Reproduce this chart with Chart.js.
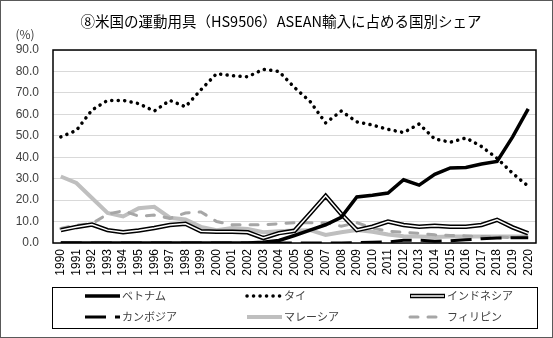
<html>
<head>
<style>
body { margin: 0; background: #fff; }
canvas { display: block; }
</style>
</head>
<body>
<canvas id="c" width="553" height="338"></canvas>
<script src="https://cdn.jsdelivr.net/npm/chart.js"></script>
<script>
const titleText = '⑧米国の運動用具（HS9506）ASEAN輸入に占める国別シェア'
const unitText = '(%)'
const years = ['1990','1991','1992','1993','1994','1995','1996','1997','1998','1999',
  '2000','2001','2002','2003','2004','2005','2006','2007','2008','2009',
  '2010','2011','2012','2013','2014','2015','2016','2017','2018','2019','2020']
const yTicks = [0, 10, 20, 30, 40, 50, 60, 70, 80, 90]

const vietnam = [0,0,0,0,0,0,0,0,0,0, 0,0,0,0.3,1.2,3.5,6,8.5,12,21.5,
  22.3,23.3,29.5,27,32,35,35.2,36.8,38,49.5,62.5]
const thai = [49.5,52.5,62,66.5,66.5,65,61.5,66.5,63.5,71.5, 79,78,77.5,81,80,72.5,66,56,61.5,56.5,
  55,53,51.5,55.5,48.5,47,49,45,39.5,32.5,26.5]
const indonesia = [6,7.5,8.6,6,5,5.8,7,8.4,9,5.5, 5.2,5.2,5,2.3,4.6,5.7,13.8,22,13.5,6,
  7.6,10,8.4,7.6,8,7.6,7.6,8.4,10.8,7.3,4.5]
const cambodia = [0,0,0,0,0,0,0,0,0,0, 0,0,0,0,0,0,0,0,0,0.2,
  0.3,0.5,1.3,1.3,0.8,1.0,1.5,2.0,2.3,2.5,2.5]
const malaysia = [31,28,21,14,12.4,16.2,16.9,11.8,11,7.5, 6,7,6.5,5,5.5,5.8,6,3.8,5,6,
  5.2,4,3.2,3,2.8,3,3,3,3,3,3]
const philippines = [6.8,8.3,9,13.5,15,12.5,13,11.5,14,14.5, 10,8.5,8.5,8.5,9,9.5,9.5,9.5,7.8,9.5,
  7,5.5,5,4.5,3.8,3.5,3.3,3,2.8,2.5,3]

const jp = '"Noto Sans CJK JP", sans-serif'
const latin = '"Liberation Sans", Arial, sans-serif'

const datasets = [
  { label: 'ベトナム', data: vietnam, borderColor: '#000', borderWidth: 3.5, order: 1 },
  { label: 'タイ', data: thai, borderColor: '#000', borderWidth: 3.5, borderDash: [0.1, 6.4], borderCapStyle: 'round', order: 2 },
  { label: 'インドネシア', data: indonesia, borderColor: '#000', borderWidth: 4.5, order: 4, double: true },
  { label: '_inner', data: indonesia, borderColor: '#fff', borderWidth: 1.5, order: 3 },
  { label: 'カンボジア', data: cambodia, borderColor: '#000', borderWidth: 3, borderDash: [21, 9], order: 5 },
  { label: 'マレーシア', data: malaysia, borderColor: '#bfbfbf', borderWidth: 4, order: 7 },
  { label: 'フィリピン', data: philippines, borderColor: '#a6a6a6', borderWidth: 3, borderDash: [8, 10], borderCapStyle: 'round', order: 6 }
]
datasets.forEach(d => { d.pointRadius = 0; d.tension = 0; d.fill = false })

const decor = {
  id: 'decor',
  afterDraw(chart) {
    const ctx = chart.ctx
    const a = chart.chartArea
    ctx.save()
    // plot border
    ctx.strokeStyle = '#000'
    ctx.lineWidth = 1.5
    ctx.strokeRect(a.left, a.top, a.right - a.left, a.bottom - a.top)
    // outer frame
    ctx.strokeStyle = '#595959'
    ctx.lineWidth = 1
    ctx.strokeRect(0.5, 0.5, 552, 337)
    // title
    ctx.fillStyle = '#000'
    ctx.font = '14.5px ' + jp
    ctx.textAlign = 'center'
    ctx.textBaseline = 'middle'
    ctx.fillText(titleText, 281, 21)
    ctx.fillStyle = '#404040'
    ctx.font = '12px ' + jp
    ctx.fillText(unitText, 25, 34)
    // legend
    ctx.strokeStyle = '#000'
    ctx.lineWidth = 1
    ctx.strokeRect(52.5, 287.5, 485, 41)
    const cols = [85, 247, 410]
    const rows = [296, 317]
    const items = chart.data.datasets.filter(d => d.label !== '_inner')
    items.forEach((d, i) => {
      const x = cols[i % 3]
      const y = rows[Math.floor(i / 3)]
      ctx.save()
      ctx.strokeStyle = d.borderColor
      ctx.lineWidth = d.borderWidth
      ctx.lineCap = d.borderCapStyle || 'butt'
      ctx.setLineDash(d.borderDash || [])
      ctx.beginPath()
      ctx.moveTo(x, y)
      ctx.lineTo(x + 35, y)
      ctx.stroke()
      if (d.double) {
        ctx.strokeStyle = '#fff'
        ctx.lineWidth = 1.5
        ctx.beginPath()
        ctx.moveTo(x + 1, y)
        ctx.lineTo(x + 34, y)
        ctx.stroke()
      }
      ctx.restore()
      ctx.fillStyle = '#404040'
      ctx.font = '11px ' + jp
      ctx.textAlign = 'left'
      ctx.textBaseline = 'middle'
      ctx.fillText(d.label, x + 37, y)
    })
    ctx.restore()
  }
}

new Chart(document.getElementById('c'), {
  type: 'line',
  data: { labels: years, datasets },
  options: {
    responsive: false,
    animation: false,
    devicePixelRatio: 1,
    layout: { padding: { left: 0, top: 50, right: 17, bottom: 51 } },
    plugins: { legend: { display: false }, tooltip: { enabled: false } },
    scales: {
      x: {
        offset: true,
        grid: { display: false, drawTicks: false },
        border: { display: false },
        ticks: {
          autoSkip: false, maxRotation: 90, minRotation: 90, padding: 6,
          color: '#000', font: { family: latin, size: 12 }
        },
        afterFit(s) { s.height = 44 }
      },
      y: {
        min: 0, max: 90,
        afterBuildTicks(s) { s.ticks = yTicks.map(v => ({ value: v })) },
        grid: { color: '#d9d9d9', lineWidth: 1, drawTicks: false },
        border: { display: false },
        ticks: {
          padding: 14, color: '#404040', font: { family: latin, size: 12 },
          callback: v => v.toFixed(1)
        },
        afterFit(s) { s.width = 53 }
      }
    }
  },
  plugins: [decor]
})
</script>
</body>
</html>
